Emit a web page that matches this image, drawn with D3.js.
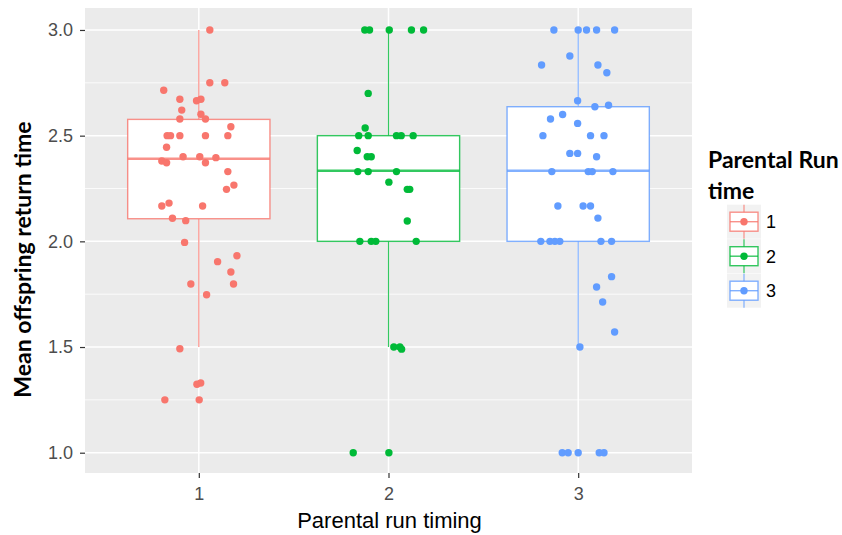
<!DOCTYPE html>
<html>
<head>
<meta charset="utf-8">
<script src="https://cdn.jsdelivr.net/npm/d3@7"></script>
<style>
  body { margin: 0; background: #fff; }
  svg { display: block; }
</style>
</head>
<body>
<svg id="chart" width="842" height="535"></svg>
<script>
// categories and colours
const groups = ["1", "2", "3"];
const colors = ["#F8766D", "#00BA38", "#619CFF"];

// box stats: lower whisker, q1, median, q3, upper whisker
const whiskerLow = [1.5, 1.5, 1.5];
const q1 = [2.107, 2.0, 2.0];
const median = [2.391, 2.334, 2.334];
const q3 = [2.577, 2.5, 2.637];
const whiskerHigh = [3.0, 3.0, 3.0];

// jittered points: horizontal offset (category units) and value
const jitter1 = [0.058, 0.058, 0.137, -0.185, -0.100, -0.012, 0.011, -0.090, -0.100, 0.011, 0.035, 0.169,
  -0.167, -0.149, -0.100, 0.035, 0.153, -0.170, -0.083, 0.005, 0.090, -0.195, -0.170, 0.035, 0.153, 0.185,
  0.146, -0.195, -0.157, 0.020, -0.139, -0.069, -0.075, 0.201, 0.099, 0.169, -0.042, 0.183, 0.041, -0.100,
  -0.010, 0.010, -0.179, 0.002];
const values1 = [3.0, 2.75, 2.75, 2.715, 2.672, 2.665, 2.672, 2.621, 2.579, 2.601, 2.579, 2.542,
  2.5, 2.5, 2.5, 2.5, 2.5, 2.445, 2.4, 2.4, 2.396, 2.38, 2.372, 2.372, 2.33, 2.266,
  2.246, 2.167, 2.181, 2.167, 2.109, 2.098, 1.995, 1.932, 1.904, 1.855, 1.798, 1.798, 1.747, 1.492,
  1.324, 1.33, 1.25, 1.25];

const jitter2 = [-0.125, -0.100, 0.004, 0.121, 0.185, -0.107, -0.123, -0.157, -0.107, 0.042, 0.067, 0.130,
  -0.165, -0.112, -0.091, -0.162, -0.107, 0.042, 0.002, 0.099, 0.112, 0.099, -0.151, -0.091, -0.067, 0.146,
  0.028, 0.060, 0.069, -0.186, 0.002];
const values2 = [3.0, 3.0, 3.0, 3.0, 3.0, 2.70, 2.536, 2.5, 2.5, 2.5, 2.5, 2.5,
  2.43, 2.40, 2.40, 2.33, 2.33, 2.33, 2.28, 2.246, 2.246, 2.096, 2.0, 2.0, 2.0, 2.0,
  1.5, 1.5, 1.49, 1.0, 1.0];

const jitter3 = [-0.128, 0.0, 0.044, 0.097, 0.192, -0.044, -0.193, 0.104, 0.151, -0.003, 0.088, 0.160,
  -0.082, -0.146, -0.003, -0.186, 0.065, 0.136, -0.044, -0.003, 0.097, -0.139, 0.053, 0.074, 0.183,
  -0.107, 0.026, 0.065, 0.104, -0.197, -0.149, -0.123, -0.097, 0.120, 0.176, 0.176, 0.097, 0.129, 0.192,
  0.009, -0.084, -0.053, 0.0, 0.111, 0.136];
const values3 = [3.0, 3.0, 3.0, 3.0, 3.0, 2.877, 2.834, 2.834, 2.798, 2.665, 2.637, 2.644,
  2.6, 2.579, 2.558, 2.5, 2.5, 2.5, 2.416, 2.416, 2.40, 2.33, 2.33, 2.33, 2.33,
  2.167, 2.167, 2.167, 2.11, 2.0, 2.0, 2.0, 2.0, 2.0, 2.0, 1.833, 1.784, 1.713, 1.571,
  1.5, 1.0, 1.0, 1.0, 1.0, 1.0];

const yTicks = [1.0, 1.5, 2.0, 2.5, 3.0];
const yMinor = [1.25, 1.75, 2.25, 2.75];

const jitters = [jitter1, jitter2, jitter3];
const values = [values1, values2, values3];

const svg = d3.select("#chart");
const panel = { left: 85, right: 692, top: 8, bottom: 473 };

const x = d3.scaleLinear().domain([0.4, 3.6]).range([panel.left, panel.right]);
const y = d3.scaleLinear().domain([0.904, 3.104]).range([panel.bottom, panel.top]);

const tickFont = "'Liberation Sans', Arial, sans-serif";
const titleFont = "Lato, 'Open Sans', sans-serif";

// panel background
svg.append("rect")
  .attr("x", panel.left).attr("y", panel.top)
  .attr("width", panel.right - panel.left).attr("height", panel.bottom - panel.top)
  .attr("fill", "#EBEBEB");

// grid
svg.selectAll(".minor").data(yMinor).enter().append("line")
  .attr("x1", panel.left).attr("x2", panel.right)
  .attr("y1", d => y(d)).attr("y2", d => y(d))
  .attr("stroke", "#fff").attr("stroke-width", 0.8);
svg.selectAll(".major").data(yTicks).enter().append("line")
  .attr("x1", panel.left).attr("x2", panel.right)
  .attr("y1", d => y(d)).attr("y2", d => y(d))
  .attr("stroke", "#fff").attr("stroke-width", 1.5);
svg.selectAll(".vmajor").data(groups).enter().append("line")
  .attr("x1", (d, i) => x(i + 1)).attr("x2", (d, i) => x(i + 1))
  .attr("y1", panel.top).attr("y2", panel.bottom)
  .attr("stroke", "#fff").attr("stroke-width", 1.5);

// axes
const yAxis = svg.append("g")
  .attr("transform", `translate(${panel.left},0)`)
  .call(d3.axisLeft(y).tickValues(yTicks).tickFormat(d3.format(".1f")).tickSize(5).tickPadding(7));
const xAxis = svg.append("g")
  .attr("transform", `translate(0,${panel.bottom})`)
  .call(d3.axisBottom(x).tickValues([1, 2, 3]).tickFormat((d, i) => groups[i]).tickSize(5).tickPadding(9));
[yAxis, xAxis].forEach(a => {
  a.select(".domain").remove();
  a.selectAll(".tick line").attr("stroke", "#333").attr("stroke-width", 1.2);
  a.selectAll(".tick text").attr("fill", "#4D4D4D")
    .style("font-family", tickFont).style("font-size", "18px");
});

// boxplots
const boxHalf = 0.375;
groups.forEach((g, i) => {
  const c = colors[i];
  const cx = i + 1;
  const bg = svg.append("g").attr("stroke", c).attr("stroke-opacity", 0.8);
  bg.append("line")
    .attr("x1", x(cx)).attr("x2", x(cx))
    .attr("y1", y(q3[i])).attr("y2", y(whiskerHigh[i]))
    .attr("stroke-width", 1.2);
  bg.append("line")
    .attr("x1", x(cx)).attr("x2", x(cx))
    .attr("y1", y(q1[i])).attr("y2", y(whiskerLow[i]))
    .attr("stroke-width", 1.2);
  bg.append("rect")
    .attr("x", x(cx - boxHalf)).attr("width", x(cx + boxHalf) - x(cx - boxHalf))
    .attr("y", y(q3[i])).attr("height", y(q1[i]) - y(q3[i]))
    .attr("fill", "#fff").attr("stroke-width", 1.4);
  bg.append("line")
    .attr("x1", x(cx - boxHalf)).attr("x2", x(cx + boxHalf))
    .attr("y1", y(median[i])).attr("y2", y(median[i]))
    .attr("stroke-width", 2.6);
});

// points
groups.forEach((g, i) => {
  svg.append("g").selectAll("circle")
    .data(values[i]).enter().append("circle")
    .attr("cx", (d, k) => x(i + 1 + jitters[i][k]))
    .attr("cy", d => y(d))
    .attr("r", 3.7)
    .attr("fill", colors[i]);
});

// axis titles
svg.append("text")
  .attr("x", (panel.left + panel.right) / 2 + 1).attr("y", 528)
  .attr("text-anchor", "middle")
  .style("font-family", tickFont).style("font-size", "22px")
  .attr("fill", "#000")
  .text("Parental run timing");

svg.append("text")
  .attr("transform", "translate(31,259.5) rotate(-90)")
  .attr("text-anchor", "middle")
  .style("font-family", titleFont).style("font-size", "23px").style("font-weight", "bold")
  .attr("fill", "#000")
  .text("Mean offspring return time");

// legend
const legend = svg.append("g");
legend.append("text")
  .attr("x", 708).attr("y", 168)
  .style("font-family", titleFont).style("font-size", "23px").style("font-weight", "bold")
  .text("Parental Run");
legend.append("text")
  .attr("x", 708).attr("y", 199)
  .style("font-family", titleFont).style("font-size", "23px").style("font-weight", "bold")
  .text("time");

const keyY = d3.scaleLinear().domain([0, 1]).range([221.7, 256.2]);
groups.forEach((g, i) => {
  const cy = keyY(i);
  const k = legend.append("g");
  k.append("rect")
    .attr("x", 727).attr("y", cy - 17).attr("width", 34).attr("height", 34)
    .attr("fill", "#F2F2F2");
  const kb = k.append("g").attr("stroke", colors[i]).attr("stroke-opacity", 0.8);
  kb.append("line").attr("x1", 744).attr("x2", 744).attr("y1", cy - 17).attr("y2", cy + 17).attr("stroke-width", 1.2);
  kb.append("rect").attr("x", 730).attr("y", cy - 9.5).attr("width", 28).attr("height", 19)
    .attr("fill", "#fff").attr("stroke-width", 1.4);
  kb.append("line").attr("x1", 730).attr("x2", 758).attr("y1", cy).attr("y2", cy).attr("stroke-width", 1.4);
  k.append("circle").attr("cx", 744).attr("cy", cy).attr("r", 3.7).attr("fill", colors[i]);
  k.append("text")
    .attr("x", 766).attr("y", cy + 6.5)
    .style("font-family", tickFont).style("font-size", "18px")
    .text(g);
});
</script>
</body>
</html>
